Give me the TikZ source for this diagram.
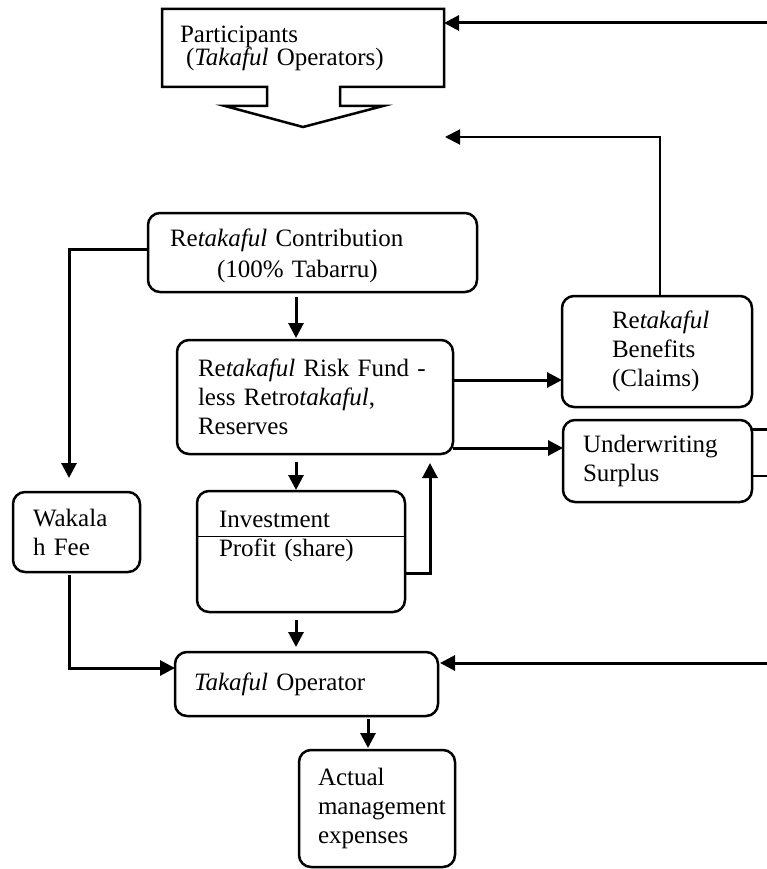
\documentclass[tikz,border=0pt]{standalone}
\usepackage{fontspec}
\setmainfont{Liberation Serif}
\usetikzlibrary{arrows.meta,calc}
\hyphenpenalty=10000
\exhyphenpenalty=10000

\begin{document}
\begin{tikzpicture}[x=1pt, y=-1pt, fund/.style={draw, rounded corners=12pt, line width=2.5pt, outer sep=0pt, align=left, inner ysep=0pt, font=\fontsize{25}{29}\selectfont}, flow/.style={line width=3pt, -{Triangle[length=15pt,width=15pt]}}, thinflow/.style={line width=2pt, -{Triangle[length=15pt,width=15pt]}}]

\useasboundingbox (0,0) rectangle (767,869);

% BOXES

\node [fund, draw=none, rounded corners=0pt, text width=246pt, inner xsep=18pt, minimum height=78pt, font=\fontsize{25}{23}\selectfont] (participants) at (303,48)
{Participants\\\hspace*{6pt}(\emph{Takaful} Operators)};
\draw [line width=2.5pt, line join=miter] (participants.south west) -- (participants.north west) -- (participants.north east) -- (participants.south east) -- ++(-104,0) -- ++(0,19) -- ++(43,0) -- ++(-80,21) -- ++(-78,-21) -- ++(42,0) -- ++(0,-19) -- cycle;

\node [fund, text width=285pt, inner xsep=22pt, minimum height=79pt, text depth=30pt, font=\fontsize{25}{31}\selectfont] (contribution) at (312.5,252.5)
{Re\emph{takaful} Contribution\\\hspace*{47pt}(100\% Tabarru)};

\node [fund, text width=234pt, inner xsep=21pt, minimum height=114pt] (riskfund) at (315,397)
{Re\emph{takaful} Risk Fund -\\less Retro\emph{takaful},\\Reserves};

\node [fund, text width=90pt, inner xsep=50pt, minimum height=111pt] (benefits) at (657,351.5)
{Re\emph{takaful}\\Benefits\\(Claims)};

\node [fund, text width=149pt, inner xsep=20pt, minimum height=82pt] (surplus) at (657.5,461)
{Underwriting\\Surplus};

\node [fund, text width=87pt, inner xsep=20pt, minimum height=80pt] (wakalah) at (76.5,532)
{Wakala\\h Fee};

\node [fund, text width=164pt, inner xsep=22pt, minimum height=121pt, text depth=64pt] (investment) at (301,551.5)
{Investment\\Profit (share)};
\draw [line width=1pt] ([yshift=-45pt]investment.north west) -- ([yshift=-45pt]investment.north east);

\node [fund, text width=225pt, inner xsep=19pt, minimum height=64pt] (operator) at (306.5,684)
{\emph{Takaful} Operator};

\node [fund, text width=118pt, inner xsep=19pt, minimum height=117pt] (expenses) at (377,808.5)
{Actual\\management\\expenses};

% FLOWS

\coordinate (spine) at (296,0);
\coordinate (expcol) at (368,0);
\coordinate (claimrow) at (0,380);
\coordinate (surplusrow) at (0,448);
\coordinate (feerow) at (0,668);
\coordinate (retroin) at (767,23);
\coordinate (claimsback) at (445,137);
\coordinate (reinvest) at (430,463);
\coordinate (feeback) at (767,663);
\coordinate (surplusup) at (767,429);
\coordinate (surplusdown) at (767,476);

\draw [flow] (retroin) -- (retroin -| participants.east);
\draw [thinflow] ([xshift=3pt]benefits.north) |- (claimsback);

\draw [flow, shorten >=14pt] ([yshift=3.5pt]contribution.west) -| ([xshift=-7.5pt]wakalah.north);
\draw [flow, shorten <=5pt, shorten >=2pt] (contribution.south -| spine) -- (riskfund.north -| spine);
\draw [flow, shorten <=8pt, shorten >=1pt] (riskfund.south -| spine) -- (investment.north -| spine);
\draw [flow, shorten <=8pt, shorten >=5pt] (investment.south -| spine) -- (operator.north -| spine);
\draw [flow, shorten <=3pt, shorten >=2pt] (operator.south -| expcol) -- (expenses.north -| expcol);

\draw [flow] ([yshift=-21.5pt]investment.east) -| (reinvest);
\draw [flow] (riskfund.east |- claimrow) -- (benefits.west |- claimrow);
\draw [flow] (riskfund.east |- surplusrow) -- (surplus.west |- surplusrow);

\draw [flow, shorten <=3pt] ([xshift=-7.5pt]wakalah.south) |- (operator.west |- feerow);
\draw [flow, shorten >=2pt] (feeback) -- (feeback -| operator.east);

\draw [line width=3pt] (surplusup -| surplus.east) -- (surplusup);
\draw [line width=2pt] (surplusdown -| surplus.east) -- (surplusdown);

\end{tikzpicture}
\end{document}
